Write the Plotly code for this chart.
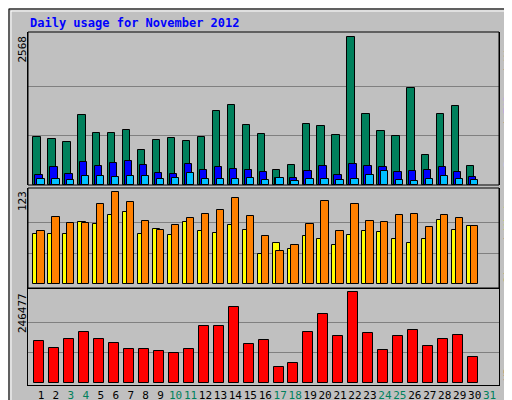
import plotly.graph_objects as go

days = list(range(1, 31))
hits = [839,804,751,1223,908,908,961,611,786,821,769,839,1293,1380,1048,891,262,349,1066,1031,873,2568,1240,943,856,1677,524,1240,1363,332]
files = [175,314,192,402,332,384,419,349,210,192,367,262,314,280,262,227,122,122,245,332,175,367,332,314,227,245,262,314,227,140]
pages = [105,105,87,157,157,140,157,157,105,122,210,105,105,105,122,87,122,70,105,105,87,105,175,245,87,70,105,157,105,87]
visits = [67,67,67,83,80,92,96,67,74,66,83,71,68,79,72,40,55,47,64,60,52,66,71,70,60,55,60,86,72,78]
sites = [71,90,82,82,107,123,110,84,72,79,88,94,99,115,91,64,44,53,80,112,71,108,84,83,92,94,76,92,88,78]
kbytes = [113800,94800,119200,138100,119200,108300,92100,92100,86700,81300,92100,154400,154400,205800,105600,116500,43300,54200,138100,186900,127300,246477,135400,89400,127300,143600,100200,119200,130000,70400]
tick_days = list(range(1, 32))
weekend = {3, 4, 10, 11, 17, 18, 24, 25, 31}
max_hits, max_sites, max_kb = 2568, 123, 246477

W, H = 512, 400
def px(x): return x / W
def py(y): return 1 - y / H

fig = go.Figure()
line = dict(color="black", width=1)
def bar(y, color, off, wid, ax):
    fig.add_trace(go.Bar(x=days, y=y, marker=dict(color=color, line=line),
                         offset=off, width=wid, xaxis="x", yaxis=ax, showlegend=False))

bar(hits, "#00805c", -0.51, 0.49, "y")
bar(files, "#0000ff", -0.38, 0.49, "y")
bar(pages, "#00c0ff", -0.25, 0.49, "y")
bar(visits, "#ffff00", -0.51, 0.49, "y2")
bar(sites, "#ff8000", -0.25, 0.49, "y2")
bar(kbytes, "#ff0000", -0.45, 0.67, "y3")

xr = [0.133, 31.63]
ticktext = [f"<span style='color:{'#00805c' if d in weekend else 'black'}'>{d}</span>" for d in tick_days]
def yax(dom, rng, mx):
    return dict(domain=dom, range=rng, tickvals=[mx/3, 2*mx/3], showticklabels=False,
                showgrid=True, gridcolor="#808080", zeroline=False, showline=True,
                linecolor="black", mirror=True, ticks="", automargin=False)

fig.update_layout(
    width=W, height=H, margin=dict(l=0, r=0, t=0, b=0, autoexpand=False),
    paper_bgcolor="#c0c0c0", plot_bgcolor="#c0c0c0", barmode="overlay", bargap=0,
    xaxis=dict(range=xr, domain=[px(20), px(491)], showgrid=False, zeroline=False,
               showline=True, linecolor="black", mirror=True, anchor="y3",
               tickvals=tick_days, ticktext=ticktext, tickangle=0, automargin=False,
               tickfont=dict(family="DejaVu Sans Mono", size=11), ticks=""),
    yaxis=yax([py(177), py(24)], [0, max_hits*152/147], max_hits),
    yaxis2=yax([py(280), py(180)], [-5.3, 128.8], max_sites),
    yaxis3=yax([py(377), py(281)], [-4600, 255400], max_kb),
    font=dict(family="DejaVu Sans Mono"),
)
for y0, y1 in [(24, 177), (180, 280)]:
    fig.add_shape(type="rect", xref="paper", yref="paper", x0=px(20), x1=px(491),
                  y0=py(y1), y1=py(y0), line=dict(color="black", width=1))
fig.add_shape(type="rect", xref="paper", yref="paper", x0=px(1), x1=px(511), y0=py(399), y1=py(1),
              line=dict(color="black", width=1))
fig.add_shape(type="rect", xref="paper", yref="paper", x0=px(3), x1=px(507), y0=py(395), y1=py(3),
              line=dict(color="white", width=1))

anns = [
    dict(x=px(20), y=py(15), text="<b>Daily usage for November 2012</b>", xanchor="left",
         yanchor="middle", font=dict(color="#0000ff", size=12, family="DejaVu Sans Mono")),
    dict(x=px(14), y=py(26), text="2568", textangle=-90, xanchor="center", yanchor="top",
         font=dict(size=11, color="black")),
    dict(x=px(14), y=py(181), text="123", textangle=-90, xanchor="center", yanchor="top",
         font=dict(size=11, color="black")),
    dict(x=px(14), y=py(283), text="246477", textangle=-90, xanchor="center", yanchor="top",
         font=dict(size=11, color="black")),
    dict(x=px(500), y=py(25), textangle=-90, xanchor="center", yanchor="top",
         text="<span style='color:#00c0ff'>Pages</span><span style='color:black'> / </span><span style='color:#0000ff'>Files</span><span style='color:black'> / </span><span style='color:#00805c'>Hits</span>",
         font=dict(size=11)),
    dict(x=px(500), y=py(278), textangle=-90, xanchor="center", yanchor="bottom",
         text="<span style='color:#ff8000'>Sites</span><span style='color:black'> / </span><span style='color:#ffff00'>Visits</span>",
         font=dict(size=11)),
    dict(x=px(500), y=py(375), textangle=-90, xanchor="center", yanchor="bottom",
         text="<span style='color:#ff0000'>KBytes</span>", font=dict(size=11)),
]
for a in anns:
    fig.add_annotation(xref="paper", yref="paper", showarrow=False, **a)

fig.write_html("out.html")
